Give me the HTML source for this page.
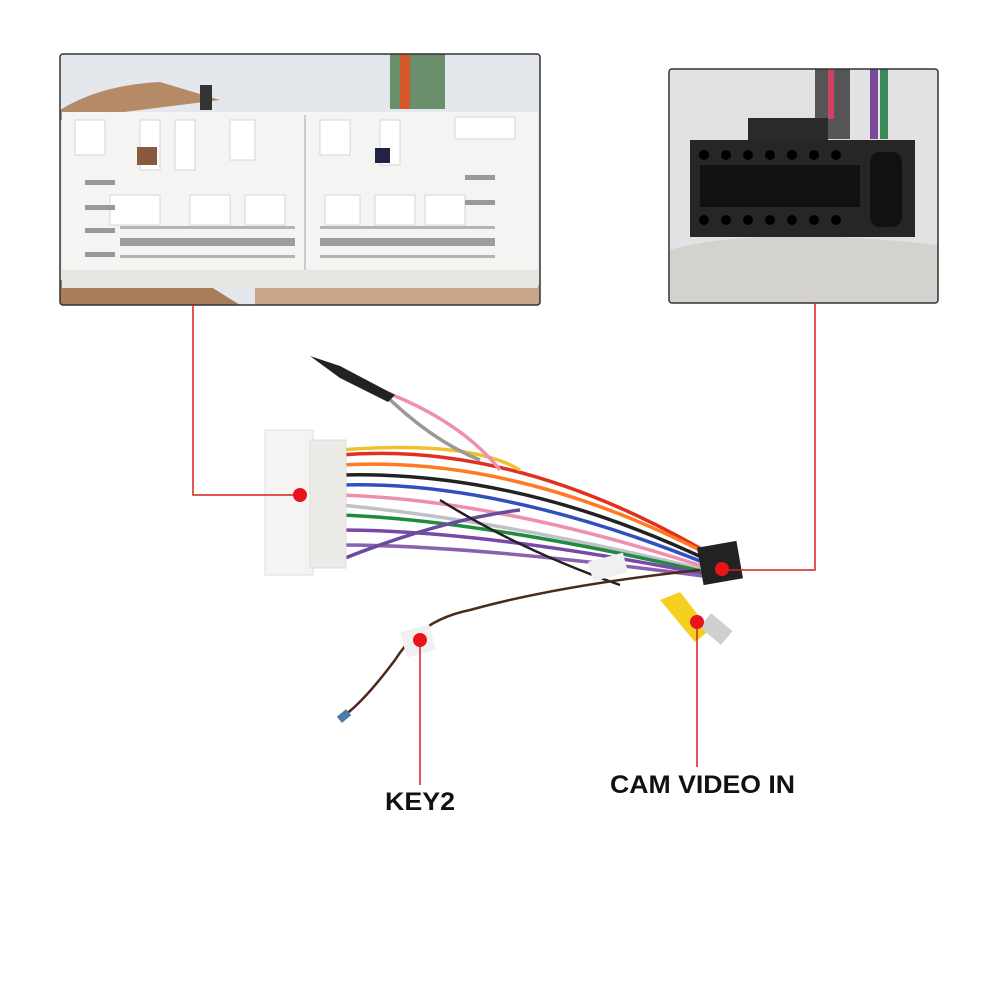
<!DOCTYPE html>
<html><head><style>
body{margin:0;background:#fff;width:1000px;height:1000px;overflow:hidden;font-family:"Liberation Sans",sans-serif}
</style></head><body>
<svg width="1000" height="1000" viewBox="0 0 1000 1000" xmlns="http://www.w3.org/2000/svg">
<defs><clipPath id="lc"><rect x="60" y="54" width="480" height="251" rx="3"/></clipPath>
<clipPath id="rc"><rect x="669" y="69" width="269" height="234" rx="3"/></clipPath></defs>
<g clip-path="url(#lc)">
<rect x="60" y="54" width="480" height="251" fill="#e4e7ec"/>
<path d="M60 110 Q100 85 160 82 L220 100 L60 120Z" fill="#b58a66"/>
<rect x="255" y="285" width="285" height="20" fill="#c8a488"/>
<path d="M60 280 L200 280 L240 305 L60 305Z" fill="#a87d5c"/>
<rect x="390" y="54" width="55" height="55" fill="#6a8f6a"/>
<rect x="400" y="54" width="10" height="55" fill="#d4582a"/>
<rect x="200" y="85" width="12" height="25" fill="#333"/>
<rect x="62" y="112" width="476" height="176" fill="#f4f4f2"/>
<rect x="62" y="270" width="476" height="18" fill="#e8e6e2"/>
<line x1="305" y1="115" x2="305" y2="270" stroke="#ccc" stroke-width="2"/>
<g fill="#fff" stroke="#d6d6d6">
<rect x="75" y="120" width="30" height="35"/><rect x="140" y="120" width="20" height="50"/>
<rect x="175" y="120" width="20" height="50"/><rect x="230" y="120" width="25" height="40"/>
<rect x="320" y="120" width="30" height="35"/><rect x="380" y="120" width="20" height="45"/>
<rect x="455" y="117" width="60" height="22"/>
<rect x="110" y="195" width="50" height="30"/><rect x="190" y="195" width="40" height="30"/>
<rect x="245" y="195" width="40" height="30"/><rect x="325" y="195" width="35" height="30"/>
<rect x="375" y="195" width="40" height="30"/><rect x="425" y="195" width="40" height="30"/>
</g>
<rect x="137" y="147" width="20" height="18" fill="#8a5a3e"/>
<rect x="375" y="148" width="15" height="15" fill="#224"/>
<g fill="#555">
<rect x="120" y="238" width="175" height="8" opacity=".55"/>
<rect x="320" y="238" width="175" height="8" opacity=".55"/>
<rect x="120" y="226" width="175" height="3" opacity=".4"/>
<rect x="320" y="226" width="175" height="3" opacity=".4"/>
<rect x="120" y="255" width="175" height="3" opacity=".4"/>
<rect x="320" y="255" width="175" height="3" opacity=".4"/>
</g>
<g fill="#999"><rect x="85" y="180" width="30" height="5"/><rect x="85" y="205" width="30" height="5"/><rect x="85" y="228" width="30" height="5"/><rect x="85" y="252" width="30" height="5"/>
<rect x="465" y="175" width="30" height="5"/><rect x="465" y="200" width="30" height="5"/></g>
</g>
<rect x="60" y="54" width="480" height="251" rx="3" fill="none" stroke="#333" stroke-width="1.5"/>
<g clip-path="url(#rc)">
<rect x="669" y="69" width="269" height="234" fill="#e2e2e4"/>
<path d="M669 250 Q760 225 938 245 L938 303 L669 303Z" fill="#d4d2ce"/>
<rect x="815" y="69" width="35" height="70" fill="#555"/>
<rect x="870" y="69" width="8" height="70" fill="#7a4a9a"/>
<rect x="880" y="69" width="8" height="70" fill="#3c8a5a"/>
<rect x="828" y="69" width="6" height="50" fill="#d04060"/>
<rect x="748" y="118" width="80" height="25" fill="#2a2a2a"/>
<rect x="690" y="140" width="225" height="97" fill="#262626"/>
<g fill="#111">
<rect x="700" y="165" width="160" height="42"/><rect x="870" y="152" width="32" height="75" rx="10"/>
</g>
<g fill="#000">
<circle cx="704" cy="155" r="5"/><circle cx="726" cy="155" r="5"/><circle cx="748" cy="155" r="5"/><circle cx="770" cy="155" r="5"/><circle cx="792" cy="155" r="5"/><circle cx="814" cy="155" r="5"/><circle cx="836" cy="155" r="5"/>
<circle cx="704" cy="220" r="5"/><circle cx="726" cy="220" r="5"/><circle cx="748" cy="220" r="5"/><circle cx="770" cy="220" r="5"/><circle cx="792" cy="220" r="5"/><circle cx="814" cy="220" r="5"/><circle cx="836" cy="220" r="5"/>
</g>
</g>
<rect x="669" y="69" width="269" height="234" rx="3" fill="none" stroke="#333" stroke-width="1.5"/>
<g fill="none" stroke-width="3.5">
<path d="M340 455 Q520 440 720 560" stroke="#e03020"/>
<path d="M340 465 Q520 455 715 558" stroke="#ff7a20"/>
<path d="M340 475 Q520 470 712 562" stroke="#222"/>
<path d="M340 485 Q500 480 710 565" stroke="#3050c0"/>
<path d="M340 495 Q500 500 708 568" stroke="#ef8fb0"/>
<path d="M340 505 Q500 520 706 570" stroke="#c0c0c8"/>
<path d="M340 515 Q480 520 705 572" stroke="#208a40"/>
<path d="M340 530 Q480 530 704 574" stroke="#7a48a8"/>
<path d="M340 545 Q470 545 703 576" stroke="#8a60b0"/>
<path d="M340 560 Q440 520 520 510" stroke="#6a4aa0"/>
<path d="M340 450 Q470 440 520 470" stroke="#f0c030"/>
<path d="M380 390 Q430 440 480 460" stroke="#999"/>
<path d="M380 390 Q460 420 500 470" stroke="#ef8fb0"/>
<path d="M440 500 Q520 550 620 585" stroke="#222" stroke-width="2.5"/>
<path d="M700 570 Q560 585 470 610 Q420 620 395 660 Q365 700 345 715" stroke="#4a2a1a" stroke-width="2.5"/>
</g>
<path d="M310 356 L340 366 L395 395 L388 402 L340 378Z" fill="#222"/>
<rect x="338" y="712" width="12" height="8" fill="#4a7aa8" transform="rotate(-40 344 716)"/>
<rect x="265" y="430" width="48" height="145" fill="#f6f4f2" stroke="#ddd"/>
<rect x="310" y="440" width="36" height="128" fill="#ecebe8" stroke="#ddd"/>
<rect x="700" y="544" width="40" height="38" fill="#222" transform="rotate(-10 720 563)"/>
<rect x="590" y="557" width="36" height="20" fill="#f0f0f0" transform="rotate(-15 608 567)"/>
<rect x="403" y="628" width="30" height="26" fill="#f0f0f0" transform="rotate(-15 418 641)"/>
<path d="M660 600 L680 592 L710 630 L695 642Z" fill="#f5d020"/>
<rect x="702" y="620" width="28" height="18" fill="#cfcfcf" transform="rotate(40 716 629)"/>
<g stroke="#d81e1e" stroke-width="1.5" fill="none">
<path d="M193 305 V495 H300"/>
<path d="M815 303 V570 H722"/>
<path d="M420 640 V785"/>
<path d="M697 622 V767"/>
</g>
<g fill="#e8141a">
<circle cx="300" cy="495" r="7"/><circle cx="722" cy="569" r="7"/><circle cx="420" cy="640" r="7"/><circle cx="697" cy="622" r="7"/>
</g>
<text x="385" y="810" font-size="25" font-weight="bold" fill="#111" textLength="70" lengthAdjust="spacingAndGlyphs">KEY2</text>
<text x="610" y="793" font-size="25" font-weight="bold" fill="#111" textLength="185" lengthAdjust="spacingAndGlyphs">CAM VIDEO IN</text>
</svg>
</body></html>
